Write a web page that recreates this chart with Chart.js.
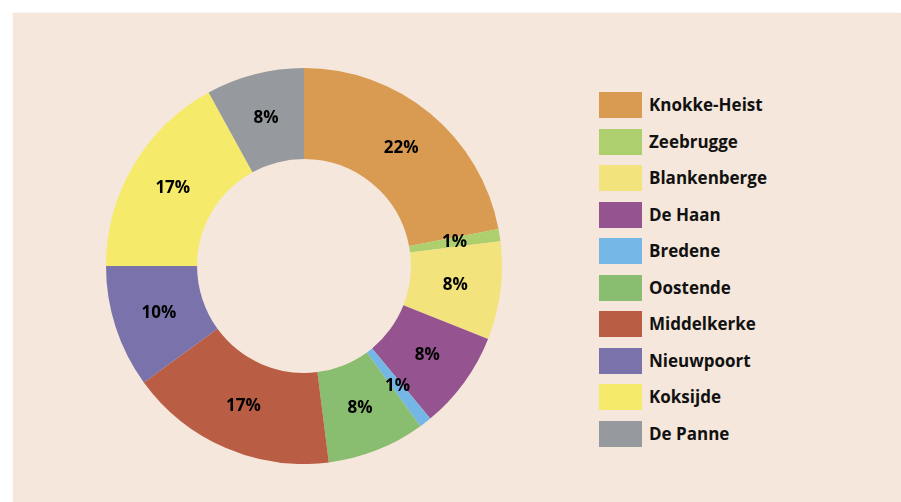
<!DOCTYPE html>
<html>
<head>
<meta charset="utf-8">
<script src="https://cdn.jsdelivr.net/npm/chart.js@4"></script>
<style>
  body { margin: 0; background: #ffffff; width: 901px; height: 502px; overflow: hidden; position: relative; font-family: "Open Sans", sans-serif; }
  #panel { position: absolute; left: 13px; top: 13px; width: 888px; height: 489px; background: #F5E7DB; box-shadow: 0 0 3px rgba(0,0,0,0.06); }
  #chartBox { position: absolute; left: 106px; top: 68px; width: 396px; height: 396px; }
  #legend { position: absolute; left: 599px; top: 92px; margin: 0; padding: 0; list-style: none; }
  #legend li { height: 26px; line-height: 26px; margin-bottom: 10.5px; display: flex; align-items: center; font-weight: bold; font-size: 17px; color: #111; }
  #legend span.box { width: 43px; height: 26px; margin-right: 7px; display: inline-block; flex: none; }
</style>
</head>
<body>
<div id="panel"></div>
<div id="chartBox"><canvas id="donutChart"></canvas></div>
<ul id="legend"></ul>
<script>
const gemeenten = ['Knokke-Heist', 'Zeebrugge', 'Blankenberge', 'De Haan', 'Bredene', 'Oostende', 'Middelkerke', 'Nieuwpoort', 'Koksijde', 'De Panne'];
const aandeel = [22, 1, 8, 8, 1, 8, 17, 10, 17, 8];
const kleuren = ['#D99A52', '#AECF6E', '#F2E37C', '#955490', '#74B6E6', '#89BD6F', '#B95E45', '#7A73AB', '#F5EA69', '#969A9F'];

// legend
const legend = document.getElementById('legend');
gemeenten.forEach((naam, i) => {
  const li = document.createElement('li');
  li.innerHTML = '<span class="box" style="background:' + kleuren[i] + '"></span>' + naam;
  legend.appendChild(li);
});

// percentages in the slices
const sliceLabels = {
  id: 'sliceLabels',
  afterDatasetsDraw(chart) {
    const ctx = chart.ctx;
    const meta = chart.getDatasetMeta(0);
    ctx.save();
    ctx.font = 'bold 17px "Open Sans", sans-serif';
    ctx.fillStyle = '#000';
    ctx.textAlign = 'center';
    ctx.textBaseline = 'middle';
    meta.data.forEach((arc, i) => {
      const pos = arc.tooltipPosition();
      ctx.fillText(aandeel[i] + '%', pos.x, pos.y);
    });
    ctx.restore();
  }
};

const ctx = document.getElementById('donutChart').getContext('2d');
const donutChart = new Chart(ctx, {
  type: 'doughnut',
  data: {
    labels: gemeenten,
    datasets: [{
      data: aandeel,
      backgroundColor: kleuren,
      borderWidth: 0
    }]
  },
  options: {
    responsive: true,
    maintainAspectRatio: false,
    animation: false,
    cutout: '54%',
    layout: { padding: 0 },
    plugins: {
      legend: { display: false },
      tooltip: { enabled: false }
    }
  },
  plugins: [sliceLabels]
});
</script>
</body>
</html>
